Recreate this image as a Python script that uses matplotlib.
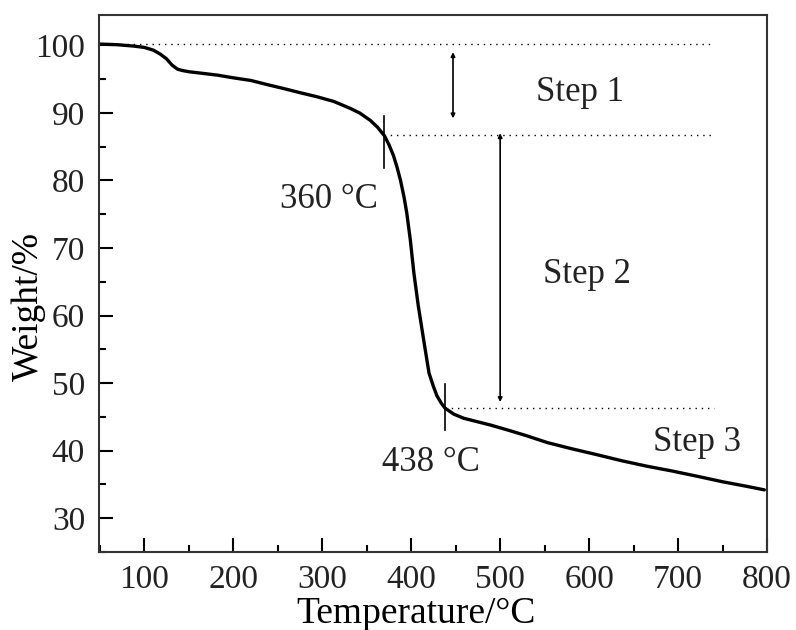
import matplotlib.pyplot as plt
from matplotlib.ticker import MultipleLocator

plt.rcParams['font.family'] = ['Liberation Serif', 'DejaVu Serif']

# TGA curve
temp = [49, 70, 88, 100, 110, 118, 125, 131, 137, 142, 150, 163, 182, 200, 220,
        238, 257, 275, 294, 313, 331, 342, 354, 362, 370, 375, 380, 384, 388,
        392, 395, 399, 403, 408, 414, 420, 425, 429, 434, 438, 448, 459, 474,
        489, 510, 530, 553, 580, 609, 637, 665, 693, 722, 750, 778, 797]
weight = [100.2, 100.1, 99.9, 99.7, 99.3, 98.7, 98.0, 97.1, 96.5, 96.3, 96.1, 95.9,
          95.6, 95.2, 94.8, 94.2, 93.6, 93.0, 92.4, 91.7, 90.7, 90.0, 88.9, 87.9,
          86.6, 85.3, 83.7, 82.0, 80.0, 77.5, 75.2, 71.2, 66.3, 61.4, 56.4, 51.5,
          49.5, 48.1, 47.0, 46.3, 45.4, 44.8, 44.3, 43.8, 43.0, 42.2, 41.2, 40.3,
          39.4, 38.5, 37.7, 37.0, 36.2, 35.4, 34.7, 34.2]

step_levels = [100.2, 86.7, 46.3]
step_starts = [80, 369, 438]
step_end = 740
onset_temps = [369, 438]
onset_ranges = [(81.9, 89.5), (43.1, 49.8)]
onset_labels = ['360 °C', '438 °C']
onset_label_pos = [(308, 77.2), (422, 38.3)]
arrows = [(447, 99.0, 89.2), (500, 87.0, 47.2)]
step_labels = ['Step 1', 'Step 2', 'Step 3']
step_label_pos = [(590, 93.0), (598, 66.1), (721, 41.2)]

fig = plt.figure(figsize=(7.96, 6.3), dpi=100)
ax = fig.add_axes([99 / 796, 78 / 630, 668 / 796, 537 / 630])

ax.plot(temp, weight, color='black', lw=2.4, solid_capstyle='round',
        solid_joinstyle='round')

for lvl, x0 in zip(step_levels, step_starts):
    ax.plot([x0, step_end], [lvl, lvl], color='black', lw=1.0, ls=(0, (1, 3.5)))

for t, (y0, y1) in zip(onset_temps, onset_ranges):
    ax.plot([t, t], [y0, y1], color='black', lw=1.2)

for x, y0, y1 in arrows:
    ax.annotate('', xy=(x, y1), xytext=(x, y0),
                arrowprops=dict(arrowstyle='<|-|>', color='black', lw=1.2,
                                mutation_scale=6, shrinkA=0, shrinkB=0))

for txt, (x, y) in zip(onset_labels, onset_label_pos):
    ax.text(x, y, txt, fontsize=25, ha='center', va='center', color='#222222')
for txt, (x, y) in zip(step_labels, step_label_pos):
    ax.text(x, y, txt, fontsize=25, ha='center', va='center', color='#222222')

ax.set_xlim(49, 800)
ax.set_ylim(25, 104.5)
ax.xaxis.set_major_locator(MultipleLocator(100))
ax.xaxis.set_minor_locator(MultipleLocator(50))
ax.yaxis.set_major_locator(MultipleLocator(10))
ax.yaxis.set_minor_locator(MultipleLocator(5))
ax.tick_params(which='both', direction='in', top=False, right=False,
               labelsize=24, labelcolor='#222222', width=1.5)
ax.tick_params(which='major', length=10)
ax.tick_params(which='minor', length=5)
ax.tick_params(axis='x', pad=9)
ax.tick_params(axis='y', pad=10)
for sp in ax.spines.values():
    sp.set_linewidth(1.5)
    sp.set_color('#333333')

ax.set_xlabel('Temperature/°C', fontsize=27)
ax.set_ylabel('Weight/%', fontsize=27)
ax.xaxis.set_label_coords(0.475, -0.083)
ax.yaxis.set_label_coords(-0.08, 0.458)

fig.savefig('out.png', dpi=100)
